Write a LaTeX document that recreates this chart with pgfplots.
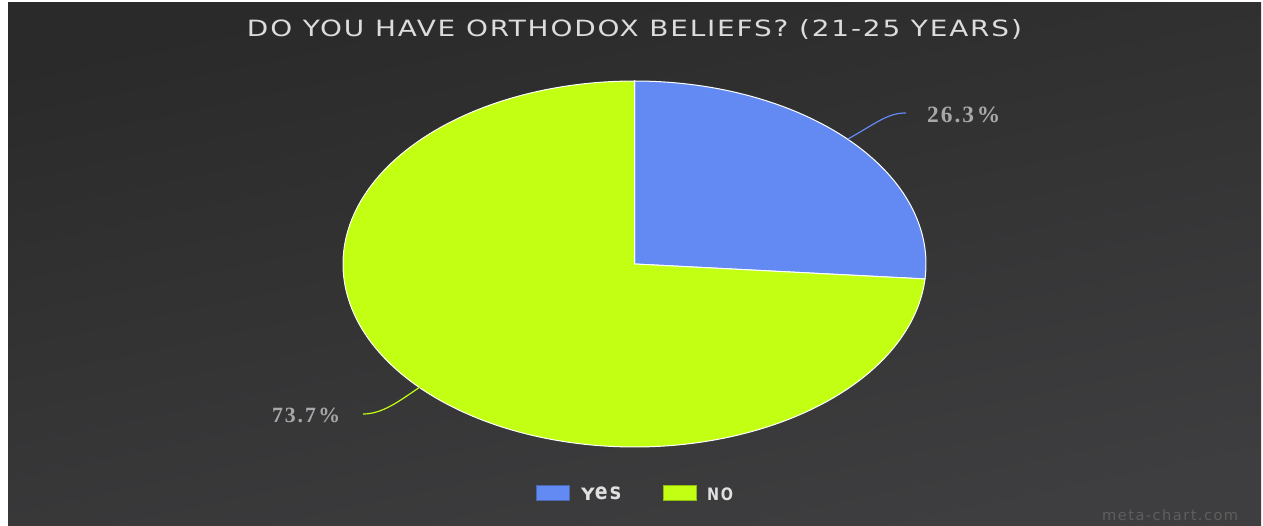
\documentclass[border=0pt]{standalone}
\usepackage{pgfplots}
\pgfplotsset{compat=1.18}
\usepackage{pgfplotstable}
\usepackage{graphicx}
\usepackage{fontspec}
\setmainfont{Liberation Serif}
\newfontfamily\titlefont[LetterSpace=6]{DejaVu Sans Condensed}
\newfontfamily\legfont[LetterSpace=12]{DejaVu Sans}
\newfontfamily\wmfont[LetterSpace=10]{DejaVu Sans}
\definecolor{bgtop}{HTML}{2A2A2A}
\definecolor{bgbot}{HTML}{3E3E40}
\definecolor{yescol}{HTML}{638AF2}
\definecolor{nocol}{HTML}{C2FF12}
\definecolor{titlecol}{HTML}{DCDCDC}
\definecolor{labcol}{HTML}{A8A8A8}
\definecolor{legtext}{HTML}{E0E0E0}
\definecolor{wmcol}{HTML}{5E5E5E}

\pgfplotstableread{
label value
Yes 26.3
No 73.7
}\piedata

\begin{document}
\begin{tikzpicture}
\pgfplotstablegetelem{0}{value}\of\piedata \let\vyes\pgfplotsretval
\pgfplotstablegetelem{1}{value}\of\piedata \let\vno\pgfplotsretval
\pgfmathsetmacro\aend{90-3.6*\vyes}
\pgfmathsetmacro\astart{\aend-3.6*\vno}
\fill[white] (0bp,0bp) rectangle (1263bp,526bp);
\shade[top color=bgtop,bottom color=bgbot,shading angle=12] (8bp,0bp) rectangle (1261bp,523bp);
\begin{axis}[at={(0bp,0bp)},anchor=south west, scale only axis,
  width=1263bp, height=526bp, xmin=0, xmax=1263, ymin=0, ymax=526,
  hide axis, clip=false]
\addplot[fill=yescol, draw=white, line width=1bp, domain=\aend:90, samples=90, variable=\t]
  ({634.5+291.5*cos(t)},{262+183*sin(t)}) -- (axis cs:634.5,262) -- cycle;
\addplot[fill=nocol, draw=white, line width=1bp, domain=\astart:\aend, samples=240, variable=\t]
  ({634.5+291.5*cos(t)},{262+183*sin(t)}) -- (axis cs:634.5,262) -- cycle;
% leader lines
\draw[yescol, line width=1.2bp] (axis cs:848,387) .. controls (axis cs:878,404) and (axis cs:888,413) .. (axis cs:906,413);
\draw[nocol, line width=1.2bp] (axis cs:420,139) .. controls (axis cs:398,124) and (axis cs:382,112) .. (axis cs:363,112);
% slice labels
\node[anchor=base west, labcol, inner sep=0pt, font=\bfseries\fontsize{17.5}{17.5}\selectfont]
  at (axis cs:927,403) {\resizebox{73bp}{!}{2\kern1.5bp6\kern1.5bp.\kern1.5bp3\kern2bp\%}};
\node[anchor=base west, labcol, inner sep=0pt, font=\bfseries\fontsize{17.5}{17.5}\selectfont]
  at (axis cs:272,103) {\resizebox{68bp}{!}{7\kern1.5bp3\kern1.5bp.\kern1.5bp7\kern2bp\%}};
% title
\node[anchor=base, titlecol, inner sep=0pt] at (axis cs:634.5,489)
  {\resizebox{775bp}{17bp}{\titlefont DO YOU HAVE ORTHODOX BELIEFS? (21-25 YEARS)}};
% legend
\fill[yescol, draw=yescol!75!black, line width=0.6bp] (axis cs:536,26) rectangle (axis cs:569,41);
\fill[nocol, draw=nocol!75!black, line width=0.6bp] (axis cs:663,26) rectangle (axis cs:696,41);
\node[anchor=base west, legtext, inner sep=0pt] at (axis cs:581,26)
  {\resizebox{40bp}{12.7bp}{\legfont\bfseries Y\scalebox{1}[1.33]{es}}};
\node[anchor=base west, legtext, inner sep=0pt] at (axis cs:707,26)
  {\resizebox{26bp}{12.7bp}{\legfont\bfseries NO}};
% watermark
\node[anchor=base west, wmcol, inner sep=0pt] at (axis cs:1102,6)
  {\resizebox{136bp}{!}{\wmfont meta-chart.com}};
\end{axis}
\end{tikzpicture}
\end{document}
